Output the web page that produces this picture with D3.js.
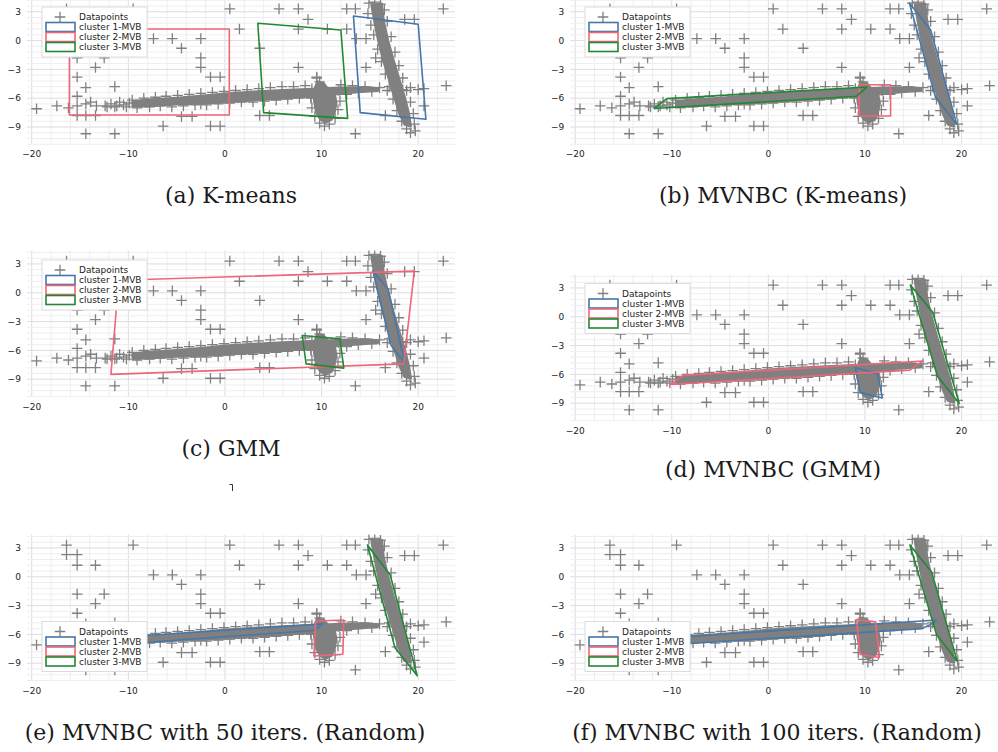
<!DOCTYPE html>
<html>
<head>
<meta charset="utf-8">
<script src="https://cdn.jsdelivr.net/npm/d3@7"></script>
<style>
body { margin: 0; background: #fff; }
text { font-family: "DejaVu Sans", sans-serif; }
.caption { font-family: "DejaVu Serif", serif; }
</style>
</head>
<body>
<svg id="fig" width="998" height="752"></svg>
<script>
// scattered single datapoints (same data set in every panel)
var outliers = [
  [-16.4,3.3],[-16.4,2.3],[-15.3,2.3],[-15.3,1.2],[-13.4,1.2],[-9.5,3.3],[-7.4,0.2],[-5.45,0.2],
  [-2.5,0.2],[-4.5,-0.8],[-2.5,-1.8],[-2.5,-2.8],[-1.5,-3.8],[-0.5,-3.8],[0.5,3.3],[1.5,1.2],
  [-15.3,-1.8],[-12.5,-1.8],[-13.4,-2.8],[-15.3,-3.8],[-14.4,-4.9],[-11.4,-4.8],[-15.3,-5.8],
  [-19.5,-7.1],[-17.4,-6.8],[-16.2,-7.0],[-15.3,-6.8],[-15.3,-7.8],[-14.4,-7.8],[-13.4,-7.8],
  [-14.4,-6.6],[-13.9,-6.4],[-13.3,-6.8],[-12.4,-6.8],[-11.4,-6.9],
  [-14.4,-9.7],[-11.4,-9.7],[-6.4,-8.9],[-4.5,-7.9],[-3.4,-7.9],[-1.5,-8.9],[-0.5,-8.9],[-2.5,-6.6],
  [5.6,3.3],[7.6,3.3],[12.6,3.3],[13.5,3.3],[22.6,3.3],[8.6,2.2],[7.6,1.2],[10.6,1.2],[12.6,1.2],
  [18.6,2.2],[19.6,2.2],[3.6,-0.8],[13.6,0.2],[14.6,0.2],[7.6,-2.8],[14.6,-2.8],[15.6,-1.8],
  [9.5,-3.8],[22.9,-4.7],[20.6,-5.0],[20.6,-6.8],[3.6,-7.8],[4.6,-7.8],[16.6,-7.8],[13.5,-9.7]
];

// dense regions: outline of the solid grey mass
var bandCore = [
  [-9.5,-6.35],[-8,-6.2],[-5,-6.0],[-2,-5.75],[0,-5.55],[3,-5.35],[6,-5.2],[8.5,-5.1],[12,-4.95],[14,-4.9],[15.8,-5.0],
  [15.8,-5.2],[14,-5.3],[12,-5.5],[8.5,-5.8],[6,-6.0],[3,-6.2],[0,-6.4],[-2,-6.5],[-5,-6.6],[-8,-6.8],[-9.5,-6.85]
];
var blobCore = [
  [9.6,-4.3],[10.2,-4.5],[10.6,-5.0],[11.3,-5.5],[11.5,-6.5],[11.3,-7.5],[11.0,-8.2],[10.4,-8.5],
  [9.9,-8.2],[9.5,-7.5],[9.3,-6.5],[9.2,-5.5],[9.4,-4.8]
];
var diagCore = [
  [15.2,3.7],[15.5,2.0],[15.9,0.0],[16.4,-2.0],[17.0,-4.0],[17.6,-6.0],[18.1,-7.6],[18.6,-8.7],
  [19.2,-8.9],[19.0,-7.6],[18.6,-6.0],[18.0,-4.0],[17.4,-2.0],[16.85,0.0],[16.4,2.0],[16.2,3.8]
];
// single datapoints sticking out of the dense regions
var bandFringe = [
  [-12.2,-6.9],[-11.8,-6.6],[-11.2,-6.8],[-10.9,-6.4],[-10.5,-6.7],[-10.2,-6.9],[-9.9,-6.5],
  [-9.6,-6.2],[-9.1,-7.0],[-8.4,-6.0],[-7.8,-6.9],[-7.2,-5.9],
  [-6.7,-6.8],[-6.1,-5.8],[-5.5,-6.9],[-4.9,-5.7],[-4.3,-6.8],[-3.7,-5.6],[-3.1,-6.7],[-2.5,-5.5],
  [-1.9,-6.7],[-1.3,-5.4],[-0.7,-6.6],[-0.1,-5.3],[0.5,-6.5],[1.1,-5.2],[1.7,-6.4],[2.3,-5.1],
  [2.9,-6.4],[3.5,-5.0],[4.1,-6.3],[4.7,-4.9],[5.3,-6.2],[5.9,-4.8],[6.5,-6.1],[7.1,-4.8],
  [7.7,-6.0],[8.3,-4.7],[8.9,-5.9],[12.0,-4.6],[12.6,-5.6],[13.2,-4.7],[13.8,-5.4],[14.5,-4.8],
  [15.2,-5.3],[16.0,-4.9],[16.8,-5.2],[17.6,-5.0],[18.4,-5.1],[19.2,-4.9],[20.0,-5.1]
];
var blobFringe = [
  [9.5,-3.9],[9.8,-4.3],[9.0,-5.0],[11.8,-5.2],[8.9,-6.0],[11.9,-6.3],[9.0,-7.0],[11.7,-7.2],
  [9.3,-7.9],[11.4,-8.1],[9.8,-8.6],[10.3,-8.9],[10.8,-8.7]
];
var diagFringe = [
  [14.9,3.9],[15.5,4.0],[16.1,3.8],[16.5,3.2],[14.8,2.8],[15.1,1.6],[16.8,2.0],[15.4,0.6],
  [17.2,0.4],[15.8,-0.9],[17.6,-1.2],[16.2,-2.2],[18.0,-2.6],[16.6,-3.5],[18.4,-3.9],[17.0,-4.8],
  [18.8,-5.2],[17.4,-6.1],[19.2,-6.4],[17.8,-7.3],[19.5,-7.6],[18.3,-8.4],[19.6,-8.7],[18.8,-9.2],
  [19.2,-9.6],[19.7,-9.4]
];

// minimum volume boxes per panel
var mvbA = { c1: [[13.3,2.55],[20.0,1.7],[20.8,-8.2],[14.0,-7.5]],
             c2: [[-16.1,1.2],[0.45,1.2],[0.45,-7.75],[-16.1,-7.75]],
             c3: [[3.4,1.8],[12.0,1.1],[12.7,-8.1],[4.0,-7.5]] };
var mvbB = { c1: [[14.6,3.9],[16.8,1.1],[19.5,-8.7],[17.3,-5.9]],
             c2: [[9.4,-4.6],[12.65,-4.6],[12.65,-7.86],[9.4,-7.86]],
             c3: [[-11.8,-7.07],[-10.5,-6.04],[10.2,-4.84],[9.1,-5.8]] };
var mvbC = { c1: [[15.3,2.3],[16.9,0.35],[18.6,-7.3],[17.2,-5.5]],
             c2: [[-11.0,1.3],[19.6,2.25],[18.5,-7.4],[-11.8,-8.5]],
             c3: [[8.0,-4.45],[11.9,-4.8],[12.3,-7.85],[8.4,-7.4]] };
var mvbD = { c1: [[9.0,-5.3],[11.3,-5.9],[11.8,-8.45],[9.5,-7.9]],
             c2: [[-10.2,-7.06],[-8.8,-6.1],[16.0,-4.6],[14.65,-5.56]],
             c3: [[14.7,3.3],[17.0,0.5],[19.75,-9.0],[17.5,-6.2]] };
var mvbE = { c1: [[-12.0,-7.1],[-11.0,-6.3],[10.2,-4.9],[9.1,-5.6]],
             c2: [[9.4,-4.6],[12.3,-4.5],[12.2,-8.07],[9.2,-8.25]],
             c3: [[14.75,3.3],[17.1,0.18],[19.9,-10.3],[17.6,-7.4]] };
var mvbF = { c1: [[-12.0,-7.2],[-11.0,-6.4],[17.4,-4.5],[17.1,-4.8],[15.9,-5.4]],
             c2: [[9.14,-4.45],[11.1,-4.7],[11.5,-8.4],[9.5,-8.1]],
             c3: [[14.65,3.3],[16.9,0.5],[19.55,-8.8],[17.4,-6.0]] };

var legendLabels = ["Datapoints", "cluster 1-MVB", "cluster 2-MVB", "cluster 3-MVB"];
var xTicks = [-20, -10, 0, 10, 20];
var yTicks = [3, 0, -3, -6, -9];
var colors = { c1: "#4477AA", c2: "#EE6677", c3: "#228833" };

var panels = [
  { id: "a", left: 26.9,  top: -1.7,  lx: 42,  ly: 7,     mvb: mvbA, cap: "(a) K-means", cx: 231, cy: 203 },
  { id: "b", left: 570.3, top: -1.7,  lx: 585, ly: 7,     mvb: mvbB, cap: "(b) MVNBC (K-means)", cx: 783, cy: 203 },
  { id: "c", left: 26.9,  top: 250.5, lx: 42,  ly: 260,   mvb: mvbC, cap: "(c) GMM", cx: 231, cy: 456 },
  { id: "d", left: 570.3, top: 274.5, lx: 585, ly: 283.5, mvb: mvbD, cap: "(d) MVNBC (GMM)", cx: 773, cy: 477 },
  { id: "e", left: 26.9,  top: 534.5, lx: 42,  ly: 621.5, mvb: mvbE, cap: "(e) MVNBC with 50 iters. (Random)", cx: 225, cy: 740 },
  { id: "f", left: 570.3, top: 534.5, lx: 585, ly: 621.5, mvb: mvbF, cap: "(f) MVNBC with 100 iters. (Random)", cx: 777, cy: 740 }
];

var width = 428, height = 146;
var svg = d3.select("#fig");

function plus(g, pts, x, y) {
  g.append("path")
    .attr("d", pts.map(function(d) {
      var px = x(d[0]), py = y(d[1]);
      return "M" + (px - 5.3) + "," + py + "H" + (px + 5.3) + "M" + px + "," + (py - 5.3) + "V" + (py + 5.3);
    }).join(""))
    .attr("stroke", "#808080")
    .attr("stroke-width", 1.3)
    .attr("fill", "none");
}

function drawPanel(p) {
  var x = d3.scaleLinear().domain([-20.5, 23.8]).range([0, width]);
  var y = d3.scaleLinear().domain([-10.8, 4.4]).range([height, 0]);

  var g = svg.append("g").attr("transform", "translate(" + p.left + "," + p.top + ")");

  g.append("clipPath").attr("id", "clip" + p.id)
    .append("rect").attr("width", width).attr("height", height);

  // grid: minor then major
  var xs = d3.range(-20, 24, 2), ys = d3.range(-30, 8, 1).map(function(i) { return i * 0.6; })
    .filter(function(v) { return v >= -10.8 && v <= 4.4; });
  g.selectAll(".vx").data(xs).enter().append("line")
    .attr("x1", function(d) { return x(d); }).attr("x2", function(d) { return x(d); })
    .attr("y1", 0).attr("y2", height)
    .attr("stroke", function(d) { return d % 10 === 0 ? "#dcdce3" : "#eeeef2"; })
    .attr("stroke-width", 1);
  g.selectAll(".hy").data(ys).enter().append("line")
    .attr("y1", function(d) { return y(d); }).attr("y2", function(d) { return y(d); })
    .attr("x1", 0).attr("x2", width)
    .attr("stroke", function(d) { return Math.abs(Math.round(d / 3) * 3 - d) < 1e-6 ? "#dcdce3" : "#eeeef2"; })
    .attr("stroke-width", 1);

  // tick labels
  g.selectAll(".xt").data(xTicks).enter().append("text")
    .attr("x", function(d) { return x(d); }).attr("y", height + 13)
    .attr("text-anchor", "middle").attr("font-size", 9).attr("fill", "#222")
    .text(function(d) { return d3.format("")(d).replace("-", "\u2212"); });
  g.selectAll(".yt").data(yTicks).enter().append("text")
    .attr("x", -6).attr("y", function(d) { return y(d) + 3.2; })
    .attr("text-anchor", "end").attr("font-size", 9).attr("fill", "#222")
    .text(function(d) { return d3.format("")(d).replace("-", "\u2212"); });

  var plot = g.append("g").attr("clip-path", "url(#clip" + p.id + ")");
  var line = d3.line().x(function(d) { return x(d[0]); }).y(function(d) { return y(d[1]); });

  [bandCore, blobCore, diagCore].forEach(function(core) {
    plot.append("path").attr("d", line(core) + "Z")
      .attr("fill", "#808080").attr("stroke", "#808080").attr("stroke-width", 3)
      .attr("stroke-linejoin", "round");
  });
  plus(plot, bandFringe, x, y);
  plus(plot, blobFringe, x, y);
  plus(plot, diagFringe, x, y);
  plus(plot, outliers, x, y);

  ["c1", "c2", "c3"].forEach(function(k) {
    plot.append("path").attr("d", line(p.mvb[k]) + "Z")
      .attr("fill", "none").attr("stroke", colors[k]).attr("stroke-width", 1.6)
      .attr("stroke-linejoin", "round");
  });

  // legend
  var lg = svg.append("g").attr("transform", "translate(" + p.lx + "," + p.ly + ")");
  lg.append("rect").attr("width", 105).attr("height", 50)
    .attr("fill", "#fff").attr("stroke", "#dcdcdc").attr("stroke-width", 1);
  lg.append("path").attr("d", "M12.7,10H23.3M18,4.7V15.3")
    .attr("stroke", "#808080").attr("stroke-width", 1.3);
  ["c1", "c2", "c3"].forEach(function(k, i) {
    lg.append("rect").attr("x", 4).attr("y", 15.5 + i * 10).attr("width", 29).attr("height", 9)
      .attr("fill", "#fff").attr("stroke", colors[k]).attr("stroke-width", 1.6);
  });
  lg.selectAll(".lt").data(legendLabels).enter().append("text")
    .attr("x", 37).attr("y", function(d, i) { return 13.2 + i * 10; })
    .attr("font-size", 9).attr("fill", "#222")
    .text(function(d) { return d; });

  svg.append("text").attr("class", "caption")
    .attr("x", p.cx).attr("y", p.cy)
    .attr("text-anchor", "middle").attr("font-size", 22).attr("fill", "#1a1a1a")
    .text(p.cap);
}

panels.forEach(drawPanel);

// stray mark below panel (c)
svg.append("path").attr("d", "M229.5,484.5H232.5V491")
  .attr("fill", "none").attr("stroke", "#333").attr("stroke-width", 1);
</script>
</body>
</html>
